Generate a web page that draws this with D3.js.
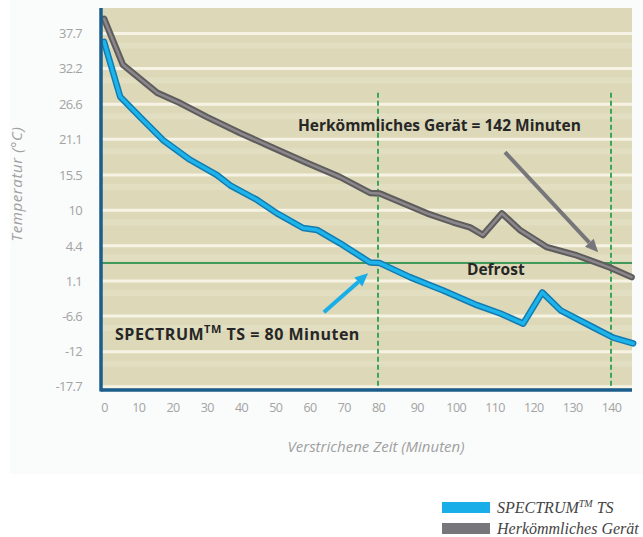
<!DOCTYPE html>
<html>
<head>
<meta charset="utf-8">
<script src="https://cdn.jsdelivr.net/npm/d3@7/dist/d3.min.js"></script>
<style>
  html, body { margin: 0; padding: 0; background: #ffffff; }
  svg { display: block; }
</style>
</head>
<body>
<svg id="chart" width="643" height="537"></svg>
<script>
// ---------- data ----------
const spectrumTime = [0, 4.7, 10.5, 17.2, 25.1, 33, 36.8, 44.7, 50.5, 58.1, 62.2, 68.9, 77.7, 80.5, 88.2, 96.8, 105.5, 111.5, 117.4, 122.3, 127.0, 135.5, 140.6, 145.8];
const spectrumTemp = [36.4, 27.8, 24.6, 21.0, 17.9, 15.5, 13.9, 11.6, 9.5, 7.2, 6.9, 4.8, 1.8, 1.7, -0.5, -2.6, -4.9, -6.2, -7.8, -2.9, -5.7, -8.4, -10.0, -10.9];

const convTime = [0, 5.5, 15.5, 22.2, 30.1, 39.7, 49.3, 59.3, 68.9, 77.7, 80.5, 92.6, 99.3, 103.7, 107.0, 111.9, 116.5, 123.5, 131.2, 139.7, 145.4];
const convTemp = [40.0, 32.8, 28.4, 26.8, 24.6, 22.1, 19.8, 17.4, 15.2, 12.7, 12.6, 9.5, 8.1, 7.3, 6.1, 9.5, 6.9, 4.2, 2.9, 1.0, -0.5];

const yTickValues = [37.7, 32.2, 26.6, 21.1, 15.5, 10, 4.4, -1.1, -6.6, -12.2, -17.7];
const yTickLabels = ["37.7", "32.2", "26.6", "21.1", "15.5", "10", "4.4", "1.1", "-6.6", "-12", "-17.7"];
const xTickValues = [0, 10, 20, 30, 40, 50, 60, 70, 80, 90, 100, 110, 120, 130, 140];

const defrostTemp = 1.7;
const markerTimes = [80, 140];

const seriesNames = ["SPECTRUM\u2122 TS", "Herkömmliches Gerät"];

// ---------- layout ----------
const svg = d3.select("#chart");
const plot = { left: 101, right: 632, top: 8, bottom: 390 };

// faint panel
svg.append("rect").attr("x", 10).attr("y", 0).attr("width", 633).attr("height", 474)
  .attr("fill", "#fafbfb");

const x = d3.scaleLinear().domain([-0.9, 80, 140, 145.5]).range([101, 378, 611, 632]);
const y = d3.scaleLinear().domain([-18.2, 41.7]).range([plot.bottom, plot.top]);

// plot background
svg.append("rect")
  .attr("x", plot.left).attr("y", plot.top)
  .attr("width", plot.right - plot.left).attr("height", plot.bottom - plot.top)
  .attr("fill", "#dcd8b8");

// subtle bands
const g = svg.append("g");
g.selectAll("line.band").data(yTickValues.slice(0, -1)).join("line")
  .attr("x1", plot.left).attr("x2", plot.right)
  .attr("y1", d => y(d) + 12).attr("y2", d => y(d) + 12)
  .attr("stroke", "#e2dec2").attr("stroke-width", 6);

// gridlines
g.selectAll("line.grid").data(yTickValues).join("line")
  .attr("x1", plot.left).attr("x2", plot.right)
  .attr("y1", d => y(d)).attr("y2", d => y(d))
  .attr("stroke", "#f6f3e4").attr("stroke-width", 3);

// defrost line
svg.append("line")
  .attr("x1", plot.left).attr("x2", plot.right)
  .attr("y1", y(defrostTemp)).attr("y2", y(defrostTemp))
  .attr("stroke", "#3f9a5c").attr("stroke-width", 2);

// vertical dashed markers
svg.selectAll("line.marker").data(markerTimes).join("line")
  .attr("x1", d => x(d)).attr("x2", d => x(d))
  .attr("y1", y(28.4)).attr("y2", plot.bottom)
  .attr("stroke", "#3aa65a").attr("stroke-width", 2)
  .attr("stroke-dasharray", "5,3");

// lines
const line = d3.line().x(d => x(d[0])).y(d => y(d[1]));
const convData = convTime.map((t, i) => [t, convTemp[i]]);
const specData = spectrumTime.map((t, i) => [t, spectrumTemp[i]]);

svg.append("path").datum(convData).attr("d", line)
  .attr("fill", "none").attr("stroke", "#5e5c5d").attr("stroke-width", 6.5)
  .attr("stroke-linejoin", "round").attr("stroke-linecap", "round");
svg.append("path").datum(convData).attr("d", line)
  .attr("fill", "none").attr("stroke", "#8c878b").attr("stroke-width", 2.5)
  .attr("stroke-linejoin", "round").attr("stroke-linecap", "round");

svg.append("path").datum(specData).attr("d", line)
  .attr("fill", "none").attr("stroke", "#137bb0").attr("stroke-width", 6.5)
  .attr("stroke-linejoin", "round").attr("stroke-linecap", "round");
svg.append("path").datum(specData).attr("d", line)
  .attr("fill", "none").attr("stroke", "#1cb4ea").attr("stroke-width", 3.5)
  .attr("stroke-linejoin", "round").attr("stroke-linecap", "round");

// axes lines
svg.append("line").attr("x1", plot.left).attr("x2", plot.left)
  .attr("y1", plot.top).attr("y2", plot.bottom + 1.5)
  .attr("stroke", "#1b5e8c").attr("stroke-width", 3.5);
svg.append("line").attr("x1", plot.left).attr("x2", plot.right)
  .attr("y1", plot.bottom).attr("y2", plot.bottom)
  .attr("stroke", "#1b5e8c").attr("stroke-width", 3.5);

// y axis
const yAxis = d3.axisLeft(y).tickValues(yTickValues)
  .tickFormat((d, i) => yTickLabels[i]).tickSize(0).tickPadding(19);
const ya = svg.append("g").attr("transform", `translate(${plot.left},0)`).call(yAxis);
ya.select(".domain").remove();
ya.selectAll("text").attr("fill", "#a3a3a3").style("font-family", "'Open Sans', sans-serif")
  .style("font-size", "13px").style("letter-spacing", "-0.7px");

// x axis
const xAxis = d3.axisBottom(x).tickValues(xTickValues).tickSize(0).tickPadding(13);
const xa = svg.append("g").attr("transform", `translate(0,${plot.bottom})`).call(xAxis);
xa.select(".domain").remove();
xa.selectAll("text").attr("fill", "#a3a3a3").style("font-family", "'Open Sans', sans-serif")
  .style("font-size", "12.5px").style("letter-spacing", "-0.6px");

// axis titles
svg.append("text").attr("transform", "translate(22,184) rotate(-90)")
  .attr("text-anchor", "middle").attr("fill", "#a0a0a0")
  .style("font-family", "'Open Sans', sans-serif").style("font-size", "15px").style("font-style", "italic")
  .style("letter-spacing", "0.6px")
  .text("Temperatur (°C)");
svg.append("text").attr("x", 376).attr("y", 452)
  .attr("text-anchor", "middle").attr("fill", "#a0a0a0")
  .style("font-family", "'Open Sans', sans-serif").style("font-size", "15px").style("font-style", "italic")
  .text("Verstrichene Zeit (Minuten)");

// annotations
const annFont = "'Open Sans', sans-serif";
const annSize = "15.5px";
svg.append("text").attr("x", x(56.6)).attr("y", y(22.4))
  .attr("fill", "#262626").style("font-family", annFont).style("font-weight", "bold").style("font-size", annSize)
  .text("Herkömmliches Gerät = 142 Minuten");
svg.append("text").attr("x", x(102.9)).attr("y", y(-0.2))
  .attr("fill", "#262626").style("font-family", annFont).style("font-weight", "bold").style("font-size", annSize)
  .text("Defrost");
const spT = svg.append("text").attr("x", x(3.2)).attr("y", y(-10.4))
  .attr("fill", "#262626").style("font-family", annFont).style("font-weight", "bold").style("font-size", "16px")
  .style("letter-spacing", "0.5px");
spT.append("tspan").text("SPECTRUM");
spT.append("tspan").attr("dy", -7).style("font-size", "11px").text("TM");
spT.append("tspan").attr("dy", 7).text(" TS = 80 Minuten");

// arrows
function arrow(t0, v0, t1, v1, color) {
  const x0 = x(t0), y0 = y(v0), x1 = x(t1), y1 = y(v1);
  const ang = Math.atan2(y1 - y0, x1 - x0);
  const hl = 13, hw = 6;
  const bx = x1 - hl * Math.cos(ang), by = y1 - hl * Math.sin(ang);
  svg.append("line").attr("x1", x0).attr("y1", y0).attr("x2", bx).attr("y2", by)
    .attr("stroke", color).attr("stroke-width", 4);
  const px = -Math.sin(ang) * hw, py = Math.cos(ang) * hw;
  svg.append("polygon")
    .attr("points", `${x1},${y1} ${bx + px},${by + py} ${bx - px},${by - py}`)
    .attr("fill", color);
}
arrow(112.7, 19.1, 136.7, 3.4, "#77777b");
arrow(64.2, -6.0, 77.1, 0.1, "#1aaee8");

// legend
const legColors = ["#1aaee8", "#77777b"];
const lg = svg.append("g");
seriesNames.forEach((name, i) => {
  lg.append("rect").attr("x", 442).attr("y", 502 + i * 21).attr("width", 48).attr("height", 11)
    .attr("fill", legColors[i]);
});
const legFont = "'Liberation Serif', serif";
const l1 = lg.append("text").attr("x", 497).attr("y", 513).attr("fill", "#444")
  .style("font-family", legFont).style("font-style", "italic").style("font-size", "16px");
l1.append("tspan").text("SPECTRUM");
l1.append("tspan").attr("dy", -6).style("font-size", "10px").text("TM");
l1.append("tspan").attr("dy", 6).text(" TS");
lg.append("text").attr("x", 497).attr("y", 534).attr("fill", "#444")
  .style("font-family", legFont).style("font-style", "italic").style("font-size", "16px")
  .text(seriesNames[1]);
</script>
</body>
</html>
